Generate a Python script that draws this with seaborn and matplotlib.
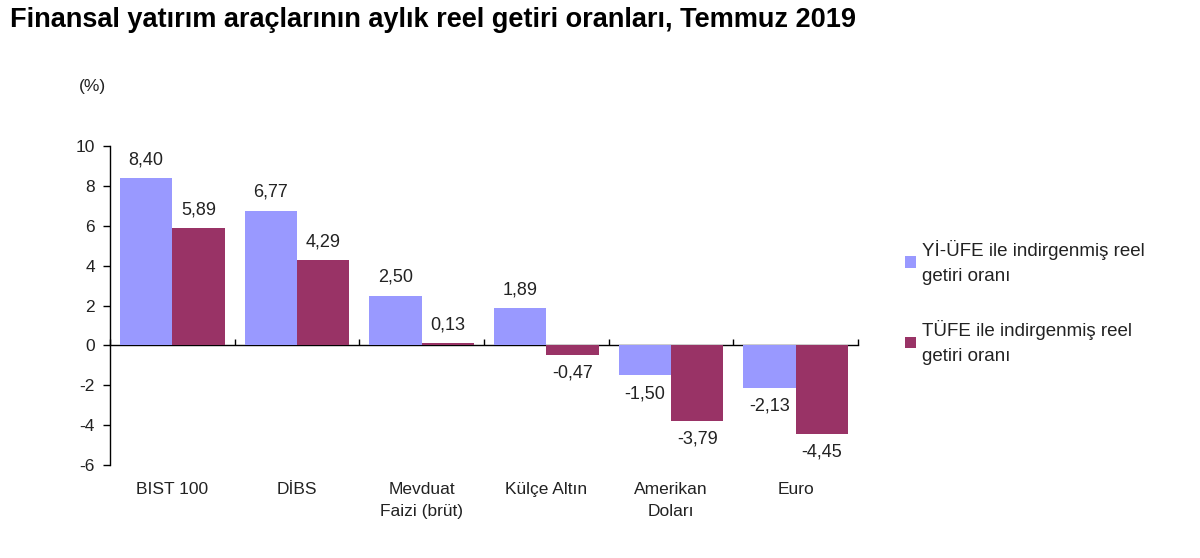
import numpy as np
import pandas as pd
import matplotlib
matplotlib.use("Agg")
import matplotlib.pyplot as plt
import seaborn as sns

categories = ["BIST 100", "DİBS", "Mevduat\nFaizi (brüt)", "Külçe Altın", "Amerikan\nDoları", "Euro"]
yi_ufe = [8.40, 6.77, 2.50, 1.89, -1.50, -2.13]
tufe = [5.89, 4.29, 0.13, -0.47, -3.79, -4.45]
series_names = ["Yİ-ÜFE ile indirgenmiş reel\ngetiri oranı", "TÜFE ile indirgenmiş reel\ngetiri oranı"]
y_ticks = [-6, -4, -2, 0, 2, 4, 6, 8, 10]

df = pd.DataFrame({
    "kategori": categories * 2,
    "deger": yi_ufe + tufe,
    "seri": [series_names[0]] * len(categories) + [series_names[1]] * len(categories),
})

sns.set_theme(style="white")
plt.rcParams["font.family"] = ["Liberation Sans", "DejaVu Sans"]

txt = "#222222"
fig = plt.figure(figsize=(12, 5.58), dpi=100)
ax = fig.add_axes([0.0917, 0.1667, 0.6233, 0.5713])

sns.barplot(data=df, x="kategori", y="deger", hue="seri", order=categories,
            hue_order=series_names, palette=["#9999FF", "#993366"],
            width=0.84, gap=0, saturation=1, linewidth=0, ax=ax)

for cont in ax.containers:
    labels = [f"{b.get_height():.2f}".replace(".", ",") for b in cont]
    ax.bar_label(cont, labels=labels, padding=7, fontsize=13, color=txt)

ax.set_ylim(-6, 10)
ax.set_xlim(-0.5, len(categories) - 0.5)
ax.set_yticks(y_ticks)
ax.set_yticklabels([str(t) for t in y_ticks])
ax.set_xlabel("")
ax.set_ylabel("")

for s in ["top", "right", "bottom"]:
    ax.spines[s].set_visible(False)
ax.spines["left"].set_color("black")
ax.spines["left"].set_linewidth(1)
ax.tick_params(axis="y", direction="out", length=5, width=1, color="black",
               labelsize=12.5, labelcolor=txt, left=True, pad=6)
ax.tick_params(axis="x", length=0, labelsize=12.5, labelcolor=txt, pad=12)
for lab in ax.get_xticklabels():
    lab.set_linespacing(1.6)

# zero line with category boundary ticks
zero_frac = (0 - (-6)) / (10 - (-6))
sec = ax.secondary_xaxis(zero_frac)
sec.set_xticks(np.arange(len(categories) + 1) - 0.5)
sec.set_xticklabels([])
sec.spines["bottom"].set_color("black")
sec.spines["bottom"].set_linewidth(1)
sec.tick_params(axis="x", direction="in", length=4, width=1, color="black")

leg = ax.legend(loc="center left", bbox_to_anchor=(1.04, 0.51), frameon=False,
                fontsize=13.5, handlelength=0.6, handleheight=0.6, handletextpad=0.3,
                labelspacing=1.9, labelcolor=txt)
for t in leg.get_texts():
    t.set_linespacing(1.6)

fig.text(0.008, 0.965, "Finansal yatırım araçlarının aylık reel getiri oranları, Temmuz 2019",
         fontsize=19.5, fontweight="bold", ha="left", va="center", color="black")
fig.text(0.066, 0.845, "(%)", fontsize=12.5, ha="left", va="center", color=txt)

fig.savefig("out.png", dpi=100, facecolor="white")
